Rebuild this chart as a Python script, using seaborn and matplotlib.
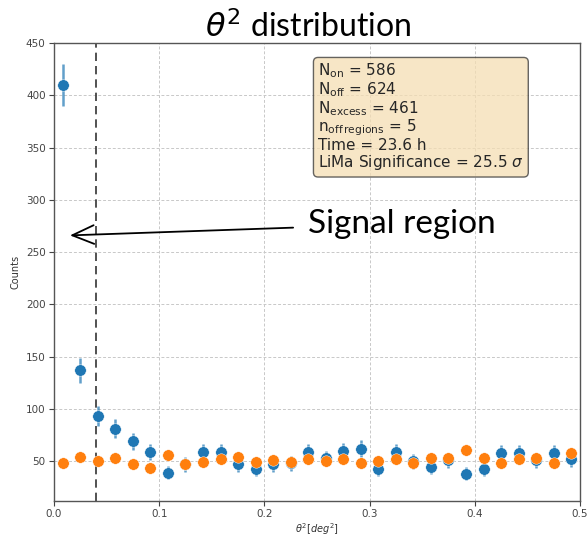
import numpy as np
import pandas as pd
import matplotlib
matplotlib.use("Agg")
import matplotlib.pyplot as plt
import seaborn as sns

# ---- data ----
bin_edges = np.linspace(0, 0.5, 31)
theta2 = (bin_edges[:-1] + bin_edges[1:]) / 2
on_counts = [410, 137, 93, 81, 69, 59, 39, 47, 59, 59,
             47, 43, 47, 48, 59, 53, 60, 62, 43, 59,
             50, 45, 51, 38, 43, 58, 58, 51, 58, 52]
on_errors = [20.2, 11.7, 9.6, 9.0, 8.3, 7.7, 6.2, 6.9, 7.7, 7.7,
             6.9, 6.6, 6.9, 6.9, 7.7, 7.3, 7.7, 7.9, 6.6, 7.7,
             7.1, 6.7, 7.1, 6.2, 6.6, 7.6, 7.6, 7.1, 7.6, 7.2]
off_counts = [48, 54, 50, 53, 47, 44, 56, 47, 49.5, 52,
              54, 49, 51.5, 49, 52, 50, 52, 48, 50.5, 52,
              48, 53, 53.5, 61, 53.5, 48, 52, 53, 48, 58]
cut_value = 0.04
stats_lines = [r"N$_{\mathrm{on}}$ = 586",
               r"N$_{\mathrm{off}}$ = 624",
               r"N$_{\mathrm{excess}}$ = 461",
               r"n$_{\mathrm{off\,regions}}$ = 5",
               "Time = 23.6 h",
               r"LiMa Significance = 25.5 $\sigma$"]
title_text = r"$\theta^2$ distribution"
annot_text = "Signal region"

df_on = pd.DataFrame({"theta2": theta2, "counts": on_counts})
df_off = pd.DataFrame({"theta2": theta2, "counts": off_counts})

sns.set_style("ticks")
plt.rcParams["font.family"] = ["DejaVu Sans"]

fig = plt.figure(figsize=(5.87, 5.37), dpi=100)
ax = fig.add_axes([0.092, 0.067, 0.896, 0.853])

ax.errorbar(theta2, on_counts, yerr=on_errors, fmt="none",
            ecolor="#1f77b4", alpha=0.7, elinewidth=1.8, zorder=2)
sns.scatterplot(data=df_on, x="theta2", y="counts", ax=ax, color="#1f77b4",
                s=68, edgecolor="white", linewidth=0.3, zorder=3)
sns.scatterplot(data=df_off, x="theta2", y="counts", ax=ax, color="#ff7f0e",
                s=68, edgecolor="white", linewidth=0.3, zorder=4)

ax.axvline(cut_value, color="#333333", ls=(0, (5, 3)), lw=1.2, zorder=1)

ax.set_xlim(0, 0.5)
ax.set_ylim(12, 450)
ax.set_xticks([0.0, 0.1, 0.2, 0.3, 0.4, 0.5])
ax.set_yticks([50, 100, 150, 200, 250, 300, 350, 400, 450])
ax.grid(True, ls=(0, (3, 2)), color="#c8c8c8", lw=0.7)
ax.set_axisbelow(True)
ax.tick_params(labelsize=7.5, colors="#444444", length=3.5, pad=2.5)
for sp in ax.spines.values():
    sp.set_visible(True)
    sp.set_color("#555555")
    sp.set_linewidth(1.0)
ax.set_xlabel(r"$\theta^2 [deg^2]$", fontsize=7, color="#333333", labelpad=1.5)
ax.set_ylabel("Counts", fontsize=7, color="#333333")

ax.text(0.484, 1.0, title_text, transform=ax.transAxes, ha="center",
        va="bottom", fontsize=23, family=["Lato", "DejaVu Sans"],
        color="black")

ax.text(0.502, 0.959, "\n".join(stats_lines), transform=ax.transAxes,
        ha="left", va="top", fontsize=11, linespacing=1.0,
        bbox=dict(boxstyle="round,pad=0.3", facecolor="wheat", alpha=0.75,
                  edgecolor="#333333"))

ax.annotate(annot_text, xy=(0.0152, 266), xytext=(0.241, 277),
            fontsize=24, family=["Lato", "DejaVu Sans"], color="black",
            va="center", ha="left",
            arrowprops=dict(arrowstyle="->,head_length=0.65,head_width=0.28",
                            color="black", lw=1.3, shrinkA=8, shrinkB=0))

fig.savefig("out.png", dpi=100)
